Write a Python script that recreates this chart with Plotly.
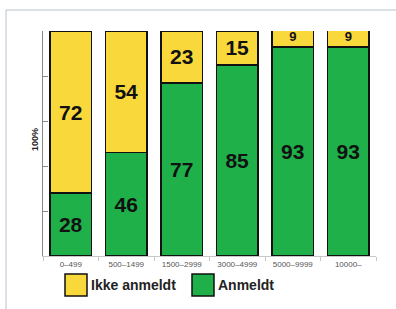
import plotly.graph_objects as go

categories = ["0–499", "500–1499", "1500–2999", "3000–4999", "5000–9999", "10000–"]
anmeldt = [28, 46, 77, 85, 93, 93]
ikke_anmeldt = [72, 54, 23, 15, 9, 9]

YELLOW = "#F8D83A"
GREEN = "#1FB04A"

L, R, T, B = 43, 20, 31, 53
W, H = 396, 309
pw, ph = W - L - R, H - T - B

def px(x):
    return (x - L) / pw

def py(y):
    return (H - B - y) / ph

fig = go.Figure()
fig.add_trace(go.Bar(
    x=categories, y=anmeldt, name="Anmeldt",
    marker=dict(color=GREEN, line=dict(color="#111", width=1.5)),
    text=anmeldt, textposition="inside", insidetextanchor="middle", textangle=0,
    texttemplate="<b>%{text}</b>",
    textfont=dict(size=21, color="#111", family="Liberation Sans"),
    showlegend=False,
))
fig.add_trace(go.Bar(
    x=categories, y=ikke_anmeldt, name="Ikke anmeldt",
    marker=dict(color=YELLOW, line=dict(color="#111", width=1.5)),
    text=ikke_anmeldt, textposition="inside", insidetextanchor="middle", textangle=0,
    texttemplate="<b>%{text}</b>",
    textfont=dict(size=21, color="#111", family="Liberation Sans"),
    showlegend=False,
))

shapes = [
    dict(type="line", xref="paper", yref="paper", x0=px(6), x1=px(W + 5), y0=py(10), y1=py(10),
         line=dict(color="#B8C2D0", width=1)),
    dict(type="line", xref="paper", yref="paper", x0=px(6), x1=px(6), y0=py(10), y1=py(H + 5),
         line=dict(color="#B8C2D0", width=1)),
    dict(type="rect", xref="paper", yref="paper", x0=px(65), x1=px(87), y0=py(274), y1=py(296),
         fillcolor=YELLOW, line=dict(color="#111", width=1.5)),
    dict(type="rect", xref="paper", yref="paper", x0=px(192), x1=px(214), y0=py(274), y1=py(296),
         fillcolor=GREEN, line=dict(color="#111", width=1.5)),
]

annotations = [
    dict(text="<b>Ikke anmeldt</b>", xref="paper", yref="paper", x=px(89), y=py(285), xanchor="left",
         yanchor="middle", showarrow=False, font=dict(size=14, color="#222", family="Liberation Sans")),
    dict(text="<b>Anmeldt</b>", xref="paper", yref="paper", x=px(216), y=py(285), xanchor="left",
         yanchor="middle", showarrow=False, font=dict(size=14, color="#222", family="Liberation Sans")),
    dict(text="<b>100%</b>", xref="paper", yref="paper", x=px(35), y=py(140), xanchor="center",
         yanchor="middle", textangle=-90, showarrow=False,
         font=dict(size=9, color="#222", family="Liberation Sans")),
]

fig.update_layout(
    barmode="stack", bargap=0.26,
    width=W, height=H,
    margin=dict(l=L, r=R, t=T, b=B),
    paper_bgcolor="white", plot_bgcolor="white",
    shapes=shapes, annotations=annotations,
    xaxis=dict(showgrid=False, showline=True, linecolor="#C8C8C8", linewidth=1,
               ticks="outside", tickson="boundaries", ticklen=4, tickcolor="#C8C8C8",
               tickfont=dict(size=8, color="#555", family="Liberation Sans")),
    yaxis=dict(range=[0, 100], showgrid=False, showline=True, linecolor="#888", linewidth=1,
               ticks="inside", ticklen=5, tickcolor="#888", dtick=20, showticklabels=False,
               zeroline=False),
)

fig.write_html("out.html", config={"displayModeBar": False},
               post_script="document.body.style.margin='0';document.body.style.overflow='hidden';")
